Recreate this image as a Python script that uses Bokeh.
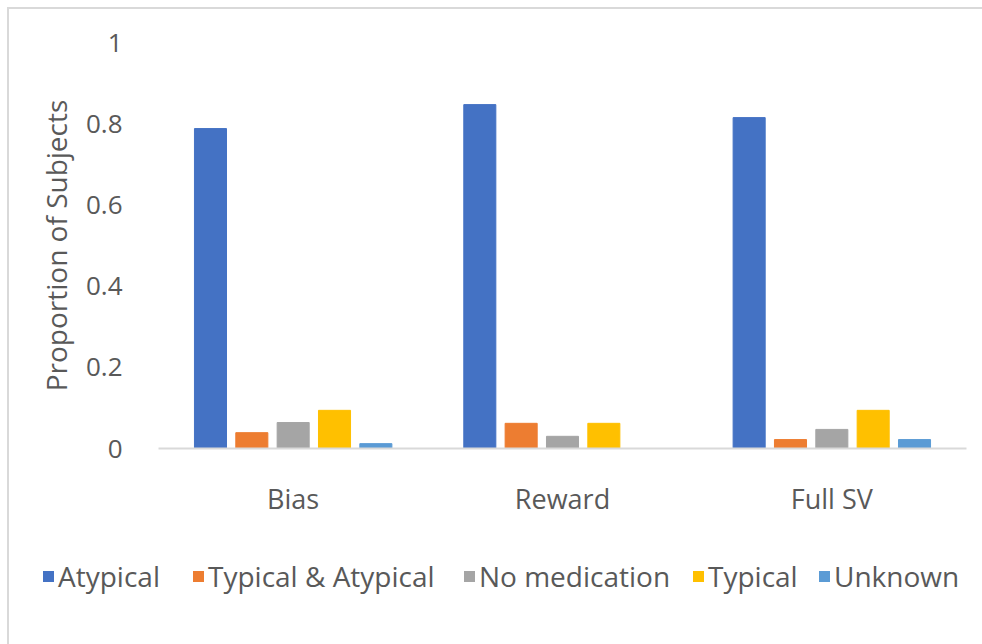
from bokeh.plotting import figure
from bokeh.layouts import column
from bokeh.models import ColumnDataSource, FactorRange, Range1d, Div
from bokeh.transform import dodge
from bokeh.embed import file_html
from bokeh.resources import INLINE

categories = ["Bias", "Reward", "Full SV"]
series_names = ["Atypical", "Typical & Atypical", "No medication", "Typical", "Unknown"]
atypical = [0.788, 0.847, 0.815]
typical_atypical = [0.039, 0.062, 0.022]
no_medication = [0.064, 0.030, 0.047]
typical = [0.094, 0.062, 0.094]
unknown = [0.012, 0.0, 0.022]
colors = ["#4472C4", "#ED7D31", "#A5A5A5", "#FFC000", "#5B9BD5"]
y_ticks = [0, 0.2, 0.4, 0.6, 0.8, 1]
y_tick_labels = ["0", "0.2", "0.4", "0.6", "0.8", "1"]

series_values = [atypical, typical_atypical, no_medication, typical, unknown]
keys = ["s0", "s1", "s2", "s3", "s4"]
data = {"cat": categories}
for k, v in zip(keys, series_values):
    data[k] = v
source = ColumnDataSource(data)

FONT = "Open Sans"
TXT = "#595959"

p = figure(x_range=FactorRange(*categories), y_range=Range1d(0, 1),
           width=975, height=520, output_backend="svg", toolbar_location=None,
           min_border_left=149, min_border_right=18, min_border_top=33, min_border_bottom=81)

step = 0.1535
bw = 0.119
for i, (k, c) in enumerate(zip(keys, colors)):
    p.vbar(x=dodge("cat", (i - 2) * step, range=p.x_range), top=k, width=bw,
           source=source, fill_color=c, line_color=c)

p.xgrid.visible = False
p.ygrid.visible = False
p.outline_line_color = None
p.background_fill_color = "white"
p.border_fill_color = "white"

p.xaxis.axis_line_color = "#d9d9d9"
p.xaxis.axis_line_width = 2
p.xaxis.major_tick_line_color = None
p.xaxis.minor_tick_line_color = None
p.xaxis.major_label_text_font = FONT
p.xaxis.major_label_text_font_size = "27px"
p.xaxis.major_label_text_color = TXT
p.xaxis.major_label_standoff = 25

p.yaxis.axis_line_color = None
p.yaxis.major_tick_line_color = None
p.yaxis.minor_tick_line_color = None
p.yaxis.ticker = y_ticks
p.yaxis.major_label_overrides = {t: l for t, l in zip(y_ticks, y_tick_labels)}
p.yaxis.major_label_text_font = FONT
p.yaxis.major_label_text_font_size = "26px"
p.yaxis.major_label_text_color = TXT
p.yaxis.major_label_standoff = 30
p.yaxis.axis_label = "Proportion of Subjects"
p.yaxis.axis_label_text_font = FONT
p.yaxis.axis_label_text_font_size = "28px"
p.yaxis.axis_label_text_font_style = "normal"
p.yaxis.axis_label_text_color = TXT
p.yaxis.axis_label_standoff = 8

# legend strip (HTML, real text)
legend_left = [34, 184, 455, 684, 810]
parts = []
for name, c, lx in zip(series_names, colors, legend_left):
    parts.append(
        f'<div style="position:absolute;left:{lx}px;top:29px;height:36px;display:flex;'
        f'align-items:center;white-space:nowrap">'
        f'<span style="display:inline-block;width:11px;height:11px;background:{c};'
        f'margin-right:4px"></span><span>{name}</span></div>')
html = ('<div style="position:relative;width:975px;height:117px;'
        f"font-family:'{FONT}';font-size:28px;color:{TXT};line-height:36px\">"
        + "".join(parts) + "</div>")
legend_div = Div(text=html, width=975, height=117, margin=0)

layout = column(p, legend_div, spacing=0)
layout.margin = (7, 0, 0, 7)
layout.styles = {"border-top": "2px solid #d9d9d9", "border-left": "2px solid #d9d9d9"}

open("out.html", "w").write(file_html(layout, INLINE))
